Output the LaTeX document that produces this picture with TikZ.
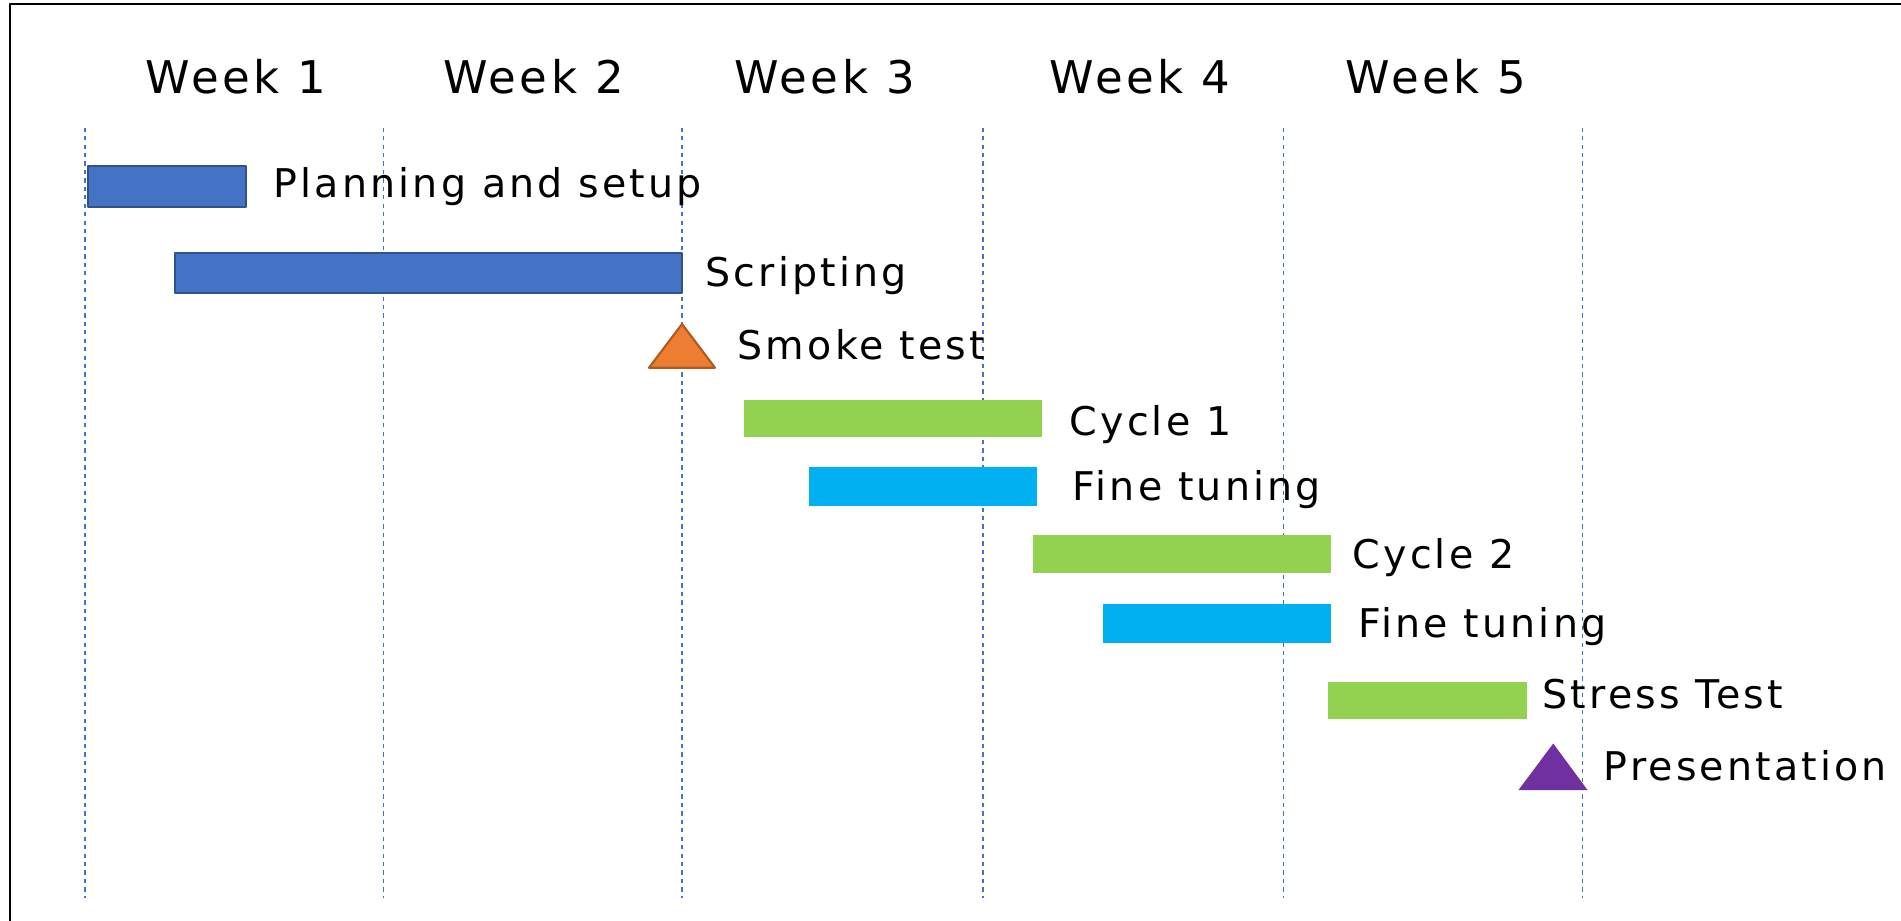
\documentclass[tikz,border=0pt]{standalone}
\usepackage{fontspec}
\setmainfont{DejaVu Sans}[LetterSpace=8]
\usepackage{tikz}
\definecolor{uuxscu}{rgb}{0.267,0.447,0.769}
\definecolor{sfvsyf}{rgb}{0.184,0.322,0.561}
\definecolor{edxdtr}{rgb}{0.929,0.490,0.192}
\definecolor{aevasr}{rgb}{0.682,0.353,0.129}
\definecolor{zsdqvq}{rgb}{0.573,0.816,0.314}
\definecolor{qqbqfq}{rgb}{0.,0.690,0.941}
\definecolor{xqtqaq}{rgb}{0.439,0.188,0.627}
\begin{document}
\begin{tikzpicture}[line join=round,x=0.01cm,y=-0.01cm,
  week/.style={anchor=base west,inner sep=0pt,font=\fontsize{12.8}{15}\selectfont},
  task/.style={anchor=base west,inner sep=0pt,font=\fontsize{11.25}{13}\selectfont},
  grid/.style={line width=0.35pt,color=uuxscu,dash pattern=on 1.2pt off 1.2pt}]
\useasboundingbox (0,0) rectangle (1901,920);
\clip (0,0) rectangle (1901,920);
\draw [line width=0.6pt] (10,4) rectangle (1950,980);
% week columns
\foreach \xx in {85,383.5,682,983,1283.5,1582.5}
  \draw [grid] (\xx,127.7) -- (\xx,898);
\node [week] (wk1) at (145,93.3) {Week 1};
\node [week] (wk2) at (442.5,93.3) {Week 2};
\node [week] (wk3) at (733.5,93.3) {Week 3};
\node [week] (wk4) at (1049,93.3) {Week 4};
\node [week] (wk5) at (1345,93.3) {Week 5};
% bars and milestones
\draw [line width=0.6pt,color=sfvsyf,fill=uuxscu] (88,165.7) rectangle (246,206.7);
\draw [line width=0.6pt,color=sfvsyf,fill=uuxscu] (175,253) rectangle (682,293);
\draw [line width=0.6pt,color=aevasr,fill=edxdtr] (649,367.7) -- (682,324) -- (715,367.7) -- cycle;
\fill [color=zsdqvq] (743.7,400) rectangle (1042,437.3);
\fill [color=qqbqfq] (809.3,466.7) rectangle (1037.3,506);
\fill [color=zsdqvq] (1032.7,535) rectangle (1331,572.7);
\fill [color=qqbqfq] (1103.3,604.3) rectangle (1331,642.7);
\fill [color=zsdqvq] (1328,681.5) rectangle (1527,719.2);
\fill [color=xqtqaq] (1518.5,790) -- (1553.2,743.5) -- (1587.5,790) -- cycle;
% labels
\node [task] (plan) at (273,197.5) {Planning and setup};
\node [task] (script) at (705,286.7) {Scripting};
\node [task] (smoke) at (737,359.3) {Smoke test};
\node [task] (cyc1) at (1069,435) {Cycle 1};
\node [task] (tune1) at (1072,500) {Fine tuning};
\node [task] (cyc2) at (1352,568.3) {Cycle 2};
\node [task] (tune2) at (1357.5,637.3) {Fine tuning};
\node [task] (stress) at (1542,708.3) {Stress Test};
\node [task] (pres) at (1603,780) {Presentation};
\end{tikzpicture}
\end{document}
